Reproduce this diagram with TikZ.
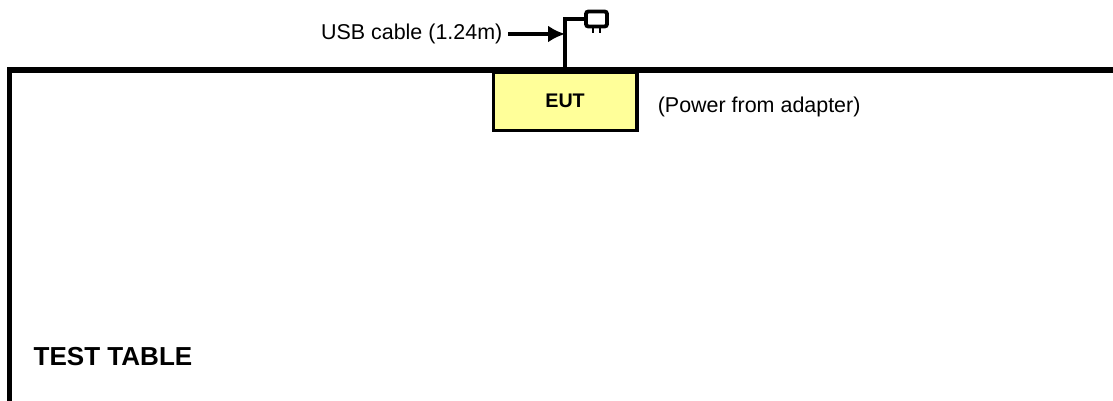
\documentclass[tikz,border=0pt]{standalone}
\usepackage{fontspec}
\setmainfont{Liberation Sans}
\usetikzlibrary{positioning, calc, arrows.meta}
\definecolor{eutyellow}{HTML}{FFFF99}

\begin{document}
\begin{tikzpicture}[x=0.01cm, y=-0.01cm,
    eutbox/.style={rectangle,
      draw,
      line width=1pt,
      fill=eutyellow,
      minimum width=1.435cm,
      minimum height=0.585cm,
      inner sep=0pt,
      font=\fontsize{5.6pt}{6.7pt}\selectfont\bfseries},
    plugbox/.style={rectangle,
      draw,
      line width=1.1pt,
      rounded corners=0.7pt,
      minimum width=0.21cm,
      minimum height=0.15cm,
      inner sep=0pt},
    label/.style={inner sep=0pt, font=\fontsize{6.1pt}{7.3pt}\selectfont},
    cable/.style={line width=1.3pt}]
  \useasboundingbox (0,0) rectangle (1113,401);

% TABLE

  \coordinate (tablefoot) at (9.5,401);
  \coordinate (tablecorner) at (9.5,70);
  \coordinate (tableend) at (1113,70);
  \draw[line width=1.45pt, line join=miter] (tablefoot) -- (tablecorner) -- (tableend);

  \node [inner sep=0pt, anchor=base west, font=\fontsize{7.4pt}{9pt}\selectfont\bfseries] (tabletitle) at (33,366) {TEST TABLE};

% EUT

  \node [eutbox, anchor=north west] (eut) at (491.5,70) {EUT};
  \node [label, right=0.185cm of eut, yshift=-0.06cm] (powerlabel) {(Power from adapter)};

% PLUG

  \node [plugbox] (plug) at (596.5,19) {};
  \coordinate (pinone) at (593,33);
  \coordinate (pintwo) at (600,33);
  \draw[line width=0.35pt] (plug.south -| pinone) -- (pinone);
  \draw[line width=0.35pt] (plug.south -| pintwo) -- (pintwo);

  \draw[cable] (eut.north) coordinate (cablefoot) |- (plug.west);

% USB CABLE

  \node [label, anchor=east] (usblabel) at (503,34) {USB cable (1.24m)};
  \coordinate (cablehit) at (cablefoot |- usblabel.east);
  \draw[cable, -{Latex[length=0.17cm, width=0.17cm]}] ($(usblabel.east)+(5,0)$) -- (cablehit);

\end{tikzpicture}
\end{document}
